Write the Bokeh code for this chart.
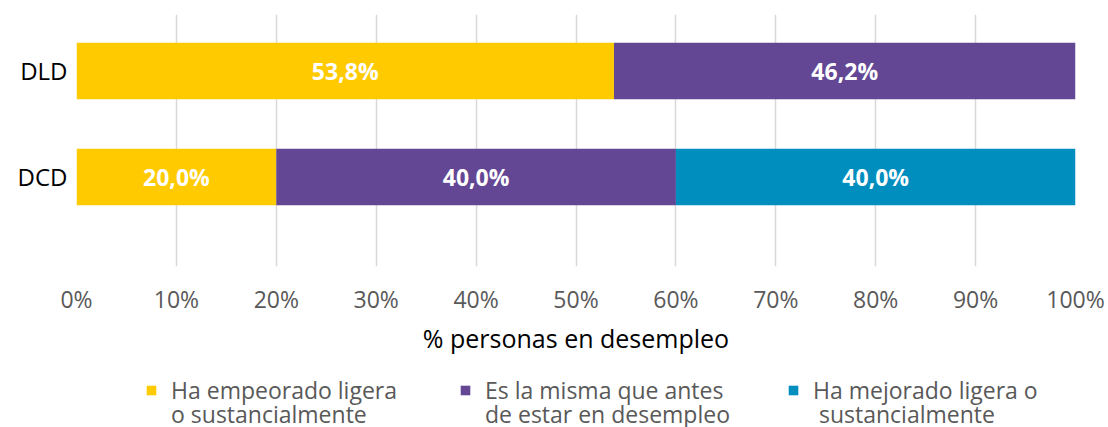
from bokeh.plotting import figure
from bokeh.layouts import column
from bokeh.models import Range1d, FixedTicker, Legend, LegendItem, ColumnDataSource
from bokeh.core.properties import value
from bokeh.embed import file_html
from bokeh.resources import INLINE

# ---- data ----
groups = ["DCD", "DLD"]
group_pos = [1, 2]
series_lines = [
    ["Ha empeorado ligera", "o sustancialmente"],
    ["Es la misma que antes", "de estar en desempleo"],
    ["Ha mejorado ligera o", " sustancialmente"],
]
empeorado = [20.0, 53.8]
misma = [40.0, 46.2]
mejorado = [40.0, 0.0]
colors = ["#FFCB00", "#634795", "#008EBF"]
x_ticks = [0, 10, 20, 30, 40, 50, 60, 70, 80, 90, 100]
x_tick_labels = ["0%", "10%", "20%", "30%", "40%", "50%", "60%", "70%", "80%", "90%", "100%"]
x_title = "% personas en desempleo"

FONT = "Open Sans"
W = 1108
NAN = float("nan")

p = figure(width=W, height=357, output_backend="svg", toolbar_location=None,
           x_range=Range1d(0, 100), y_range=Range1d(0.156, 2.532),
           min_border_left=76, min_border_right=33, min_border_top=14, min_border_bottom=84)
p.outline_line_color = None
p.background_fill_color = "white"
p.border_fill_color = "white"

# stacked bars
series_vals = [empeorado, misma, mejorado]
left = [0.0] * len(groups)
lbl_x, lbl_y, lbl_t = [], [], []
for vals, col in zip(series_vals, colors):
    right = [l + v for l, v in zip(left, vals)]
    src = ColumnDataSource(dict(y=group_pos, left=left, right=right))
    p.hbar(y="y", left="left", right="right", height=0.532, color=col, line_color=None, source=src)
    for i, v in enumerate(vals):
        if v > 0:
            lbl_x.append(left[i] + v / 2)
            lbl_y.append(group_pos[i])
            lbl_t.append(f"{v:.1f}".replace(".", ",") + "%")
    left = right

p.text(x=lbl_x, y=lbl_y, text=lbl_t, text_color="white", text_font=value(FONT),
       text_font_style="bold", text_font_size="23px", text_align="center", text_baseline="middle")

# axes
p.xaxis.ticker = FixedTicker(ticks=x_ticks)
p.xaxis.major_label_overrides = {t: l for t, l in zip(x_ticks, x_tick_labels)}
p.xaxis.axis_line_color = None
p.xaxis.major_tick_line_color = None
p.xaxis.minor_tick_line_color = None
p.xaxis.major_label_text_font = FONT
p.xaxis.major_label_text_font_size = "23px"
p.xaxis.major_label_text_color = "#595959"
p.xaxis.major_label_standoff = 10
p.xaxis.axis_label = x_title
p.xaxis.axis_label_text_font = FONT
p.xaxis.axis_label_text_font_size = "25px"
p.xaxis.axis_label_text_font_style = "normal"
p.xaxis.axis_label_text_color = "black"
p.xaxis.axis_label_standoff = 3

p.yaxis.ticker = FixedTicker(ticks=group_pos)
p.yaxis.major_label_overrides = {t: g for t, g in zip(group_pos, groups)}
p.yaxis.axis_line_color = None
p.yaxis.major_tick_line_color = None
p.yaxis.minor_tick_line_color = None
p.yaxis.major_label_text_font = FONT
p.yaxis.major_label_text_font_size = "24px"
p.yaxis.major_label_text_color = "black"
p.yaxis.major_label_standoff = 3

p.xgrid.grid_line_color = "#D9D9D9"
p.xgrid.grid_line_width = 1.5
p.ygrid.grid_line_color = None

# ---- legend strip (off-range NaN proxy glyphs carry the series colours) ----
lg = figure(width=W, height=70, output_backend="svg", toolbar_location=None,
            x_axis_type=None, y_axis_type=None, min_border=0,
            x_range=Range1d(0, 1), y_range=Range1d(0, 1))
lg.outline_line_color = None
lg.grid.visible = False
leg_x = [69, 383, 711]
common = dict(orientation="vertical", border_line_alpha=0, background_fill_alpha=0,
              padding=0, margin=0, glyph_width=12, glyph_height=12, label_standoff=14,
              label_text_font=FONT, label_text_font_size="23px", label_text_color="#595959")
for lines, col, lx in zip(series_lines, colors, leg_x):
    r = lg.quad(left=[NAN], right=[NAN], top=[NAN], bottom=[NAN], color=col, line_color=None)
    r_blank = lg.quad(left=[NAN], right=[NAN], top=[NAN], bottom=[NAN], fill_alpha=0, line_alpha=0)
    leg1 = Legend(items=[LegendItem(label=lines[0], renderers=[r])], location=(lx, 21), **common)
    leg2 = Legend(items=[LegendItem(label=lines[1], renderers=[r_blank])], location=(lx, -3), **common)
    lg.add_layout(leg1, "center")
    lg.add_layout(leg2, "center")

open("out.html", "w").write(file_html(column(p, lg), INLINE))
